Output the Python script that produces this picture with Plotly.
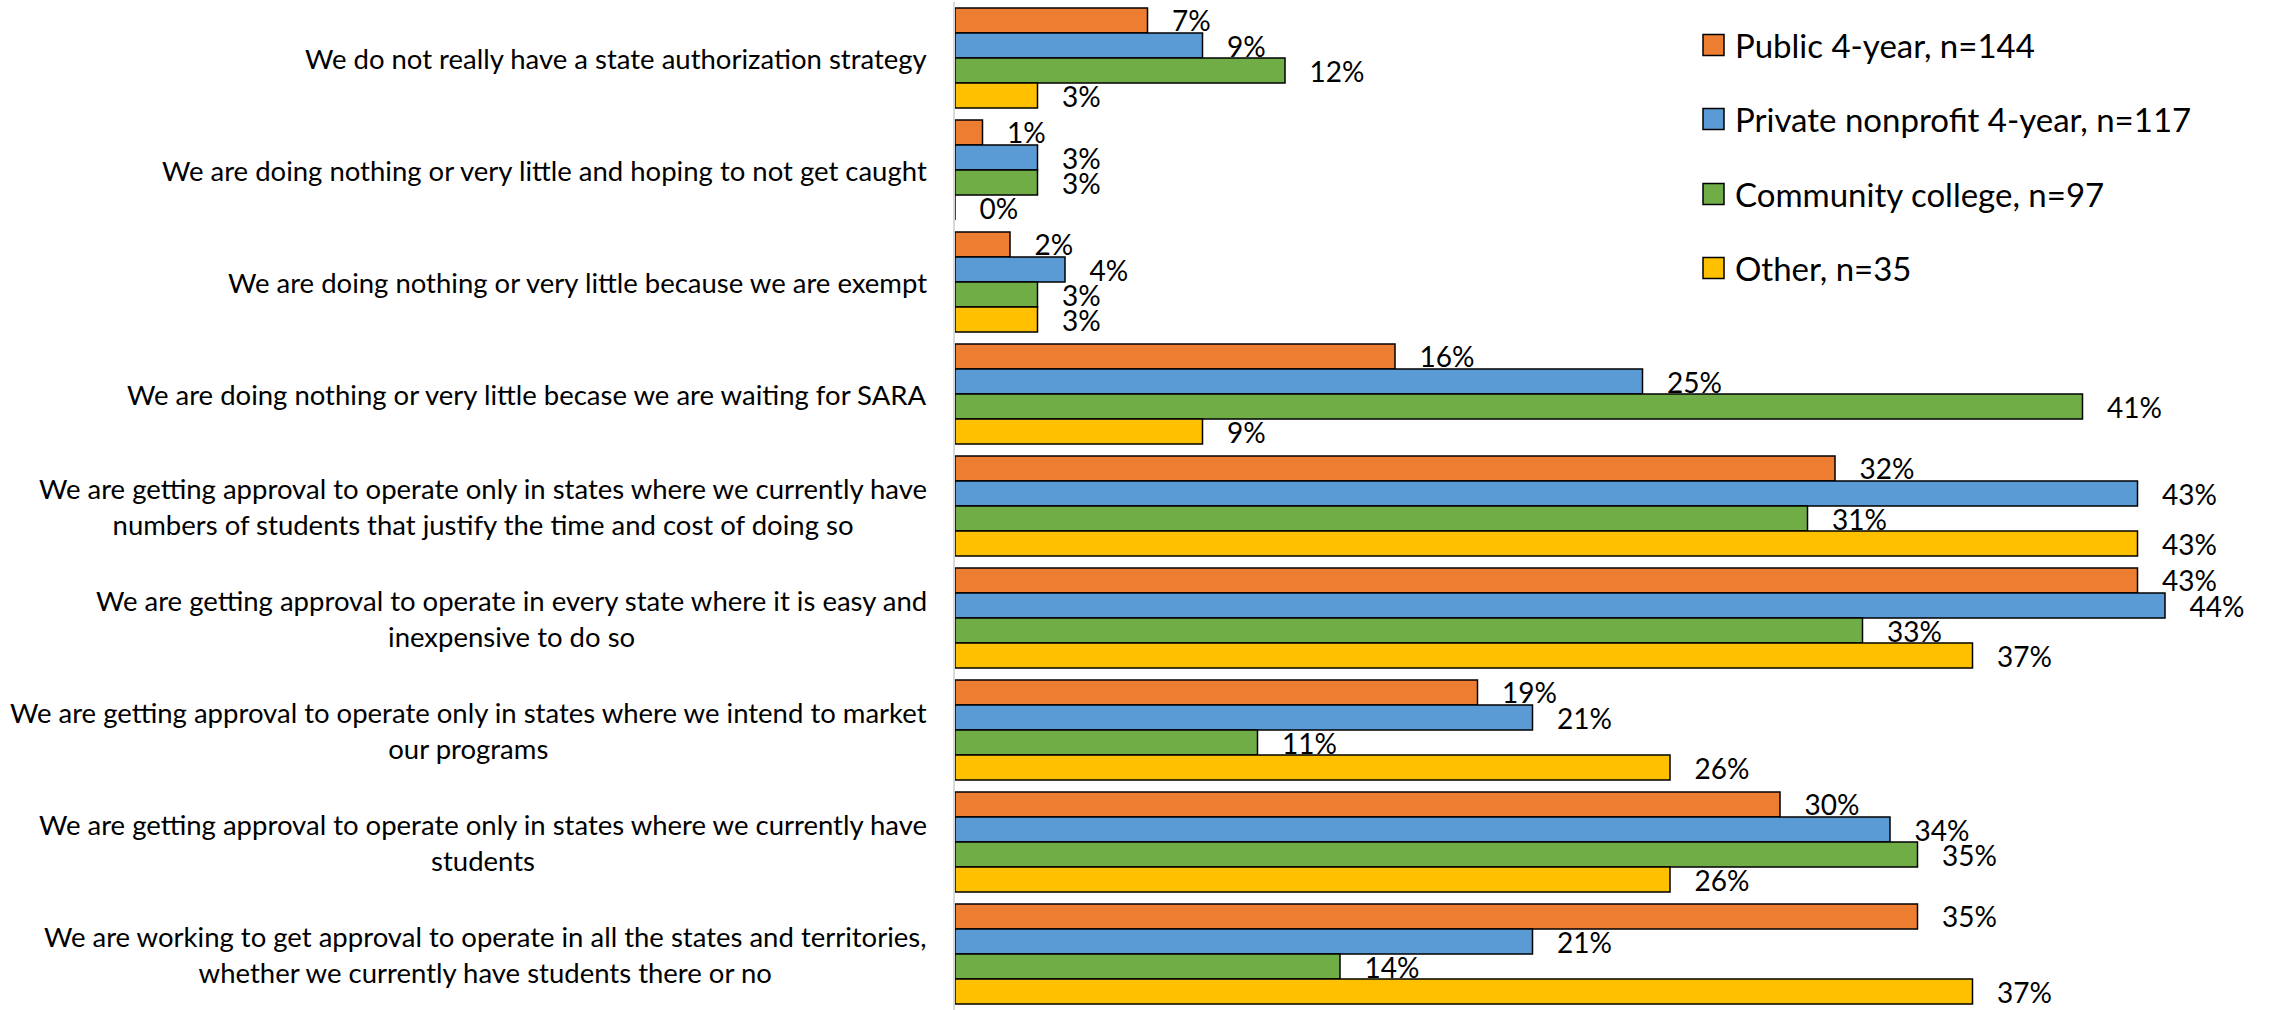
import plotly.graph_objects as go

# Survey answers (top to bottom)
categories = [
    "We do not really have a state authorization strategy",
    "We are doing nothing or very little and hoping to not get caught",
    "We are doing nothing or very little because we are exempt",
    "We are doing nothing or very little becase we are waiting for SARA",
    "We are getting approval to operate only in states where we currently have numbers of students that justify the time and cost of doing so",
    "We are getting approval to operate in every state where it is easy and inexpensive to do so",
    "We are getting approval to operate only in states where we intend to market our programs",
    "We are getting approval to operate only in states where we currently have students",
    "We are working to get approval to operate in all the states and territories, whether we currently have students there or no",
]

# Axis label text, with line breaks
category_labels = [
    "We do not really have a state authorization strategy",
    "We are doing nothing or very little and hoping to not get caught",
    "We are doing nothing or very little because we are exempt",
    "We are doing nothing or very little becase we are waiting for SARA",
    "We are getting approval to operate only in states where we currently have<br>numbers of students that justify the time and cost of doing so",
    "We are getting approval to operate in every state where it is easy and<br>inexpensive to do so",
    "We are getting approval to operate only in states where we intend to market<br>our programs",
    "We are getting approval to operate only in states where we currently have<br>students",
    "We are working to get approval to operate in all the states and territories,<br>whether we currently have students there or no",
]

series_names = [
    "Public 4-year, n=144",
    "Private nonprofit 4-year, n=117",
    "Community college, n=97",
    "Other, n=35",
]

public_4yr = [7, 1, 2, 16, 32, 43, 19, 30, 35]
private_4yr = [9, 3, 4, 25, 43, 44, 21, 34, 21]
community_college = [12, 3, 3, 41, 31, 33, 11, 35, 14]
other = [3, 0, 3, 9, 43, 37, 26, 26, 37]

series_values = [public_4yr, private_4yr, community_college, other]
colors = ["#ED7D31", "#5B9BD5", "#70AD47", "#FFC000"]

W, H = 2269, 1010
ML, MR, MT, MB = 955, 0, 2, 0
PW, PH = W - ML - MR, H - MT - MB
PX_PER_PCT = 27.5

FONT = "Lato, 'Open Sans', sans-serif"

fig = go.Figure()
for name, vals, col in zip(series_names, series_values, colors):
    fig.add_trace(go.Bar(
        y=categories,
        x=vals,
        orientation="h",
        name=name,
        marker=dict(color=col, line=dict(color="#000000", width=1.5)),
        text=["\u00a0\u00a0\u00a0%d%%" % v for v in vals],
        textposition="outside",
        constraintext="none",
        textfont=dict(family=FONT, size=28, color="#000000"),
        cliponaxis=False,
        showlegend=False,
        hoverinfo="skip",
    ))

# Category labels, centred line-by-line and right-aligned next to the axis
annotations = []
for cat, lab in zip(categories, category_labels):
    annotations.append(dict(
        xref="paper", yref="y", x=0, y=cat,
        xanchor="right", yanchor="middle", xshift=-26,
        text=lab, showarrow=False, align="center",
        font=dict(family=FONT, size=27.5, color="#000000"),
    ))


def px_to_paper(px, py):
    return (px - ML) / PW, 1 - (py - MT) / PH


# Legend drawn as boxes with text on the right side
shapes = []
legend_y = [45, 119, 194, 268]
for name, col, cy in zip(series_names, colors, legend_y):
    x0, y0 = px_to_paper(1703, cy - 10.5)
    x1, y1 = px_to_paper(1724, cy + 10.5)
    shapes.append(dict(
        type="rect", xref="paper", yref="paper",
        x0=x0, x1=x1, y0=y1, y1=y0,
        fillcolor=col, line=dict(color="#000000", width=1.5),
    ))
    tx, ty = px_to_paper(1733, cy)
    annotations.append(dict(
        xref="paper", yref="paper", x=tx, y=ty,
        xanchor="left", yanchor="middle",
        text=name, showarrow=False, align="left",
        font=dict(family=FONT, size=33, color="#000000"),
    ))

fig.update_layout(
    width=W, height=H,
    margin=dict(l=ML, r=MR, t=MT, b=MB, pad=0),
    paper_bgcolor="white", plot_bgcolor="white",
    barmode="group", bargap=0.107, bargroupgap=0,
    xaxis=dict(range=[0, PW / PX_PER_PCT], visible=False, fixedrange=True),
    yaxis=dict(
        autorange="reversed", showticklabels=False, ticks="",
        showgrid=False, zeroline=False,
        showline=True, linecolor="#D9D9D9", linewidth=2,
    ),
    annotations=annotations,
    shapes=shapes,
    font=dict(family=FONT),
)

fig.write_html("out.html")
